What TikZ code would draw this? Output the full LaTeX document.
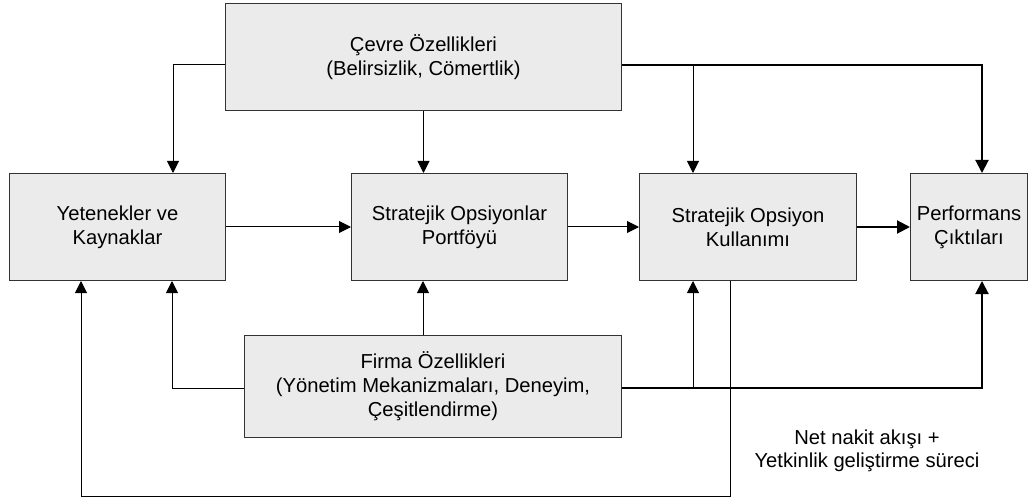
\documentclass[tikz,border=0pt]{standalone}
\usepackage{fontspec}
\setmainfont{Liberation Sans}
\usetikzlibrary{arrows.meta}
\begin{document}
\begin{tikzpicture}[x=1pt,y=-1pt,
  box/.style={draw=black!80,line width=1pt,fill=black!8,anchor=north west,inner sep=0pt,align=center,font=\fontsize{20.2}{24}\selectfont},
  conn/.style={line width=1pt,-{Triangle[length=12pt,width=12pt]}},
  thick conn/.style={line width=2pt,-{Triangle[length=13pt,width=13pt]}},
  plain/.style={line width=1pt},
  lbl/.style={align=center,font=\fontsize{20.2}{23}\selectfont}]
\useasboundingbox (0,0) rectangle (1029,500);
\node[box,minimum width=396pt,minimum height=107pt] (cevre) at (225,3) {Çevre Özellikleri\\(Belirsizlik, Cömertlik)};
\node[box,minimum width=216pt,minimum height=107pt] (yet) at (9,173) {Yetenekler ve\\Kaynaklar};
\node[box,minimum width=216pt,minimum height=107pt] (port) at (351,173) {Stratejik Opsiyonlar\\Portföyü};
\node[box,minimum width=217pt,minimum height=107pt] (kul) at (639,173) {Stratejik Opsiyon\\Kullanımı};
\node[box,minimum width=117pt,minimum height=107pt] (perf) at (910,173) {Performans\\Çıktıları};
\node[box,minimum width=377pt,minimum height=102pt] (firma) at (244,335) {Firma Özellikleri\\(Yönetim Mekanizmaları, Deneyim,\\Çeşitlendirme)};
\node[lbl] (net) at (867,451) {Net nakit akışı +\\Yetkinlik geliştirme süreci};
\coordinate (fb) at (81,496);
% Çevre connectors
\draw[conn] (cevre.west |- 0,65) -| (yet.north -| 173,0);
\draw[conn] (cevre.south) -- (cevre.south |- port.north);
\draw[thick conn] (cevre.east |- 0,65) -| (perf.north -| 982,0);
\draw[conn] (693,65) -- (kul.north -| 693,0);
% middle row
\draw[conn] (yet.east) -- (port.west);
\draw[conn] (port.east) -- (kul.west);
\draw[thick conn] (kul.east) -- (perf.west);
% Firma connectors
\draw[conn] (firma.west |- 0,388) -| (yet.south -| 172,0);
\draw[conn] (firma.north -| 423,0) -- (port.south -| 423,0);
\draw[thick conn] (firma.east |- 0,388) -| (perf.south -| 982,0);
\draw[conn] (693,388) -- (kul.south -| 693,0);
% feedback loop
\draw[conn] (kul.south -| 730,0) |- (fb) -- (yet.south -| 81,0);
\end{tikzpicture}
\end{document}
